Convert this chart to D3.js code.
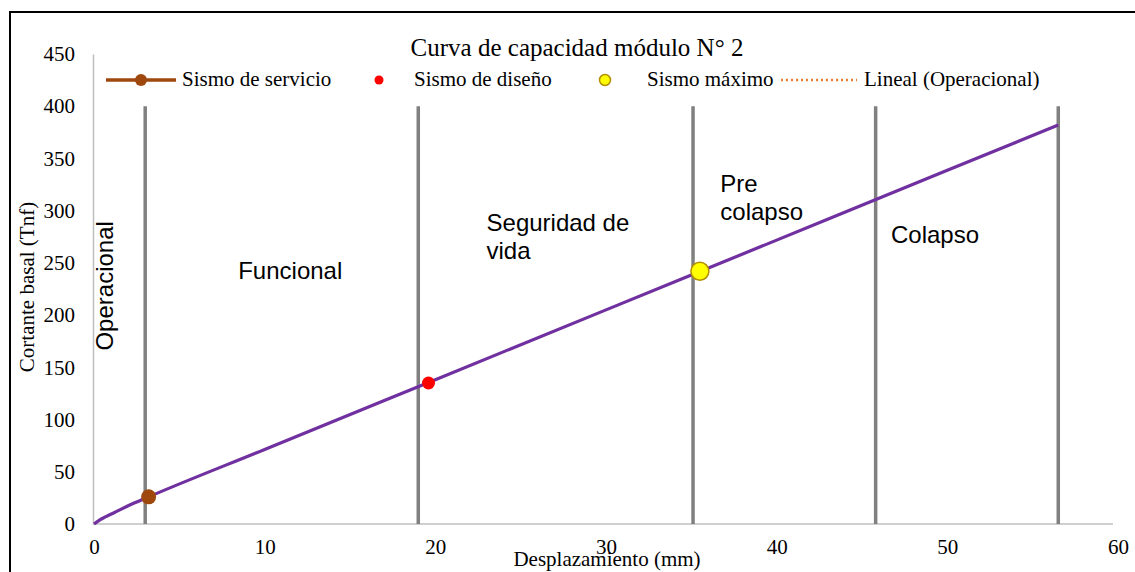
<!DOCTYPE html>
<html><head><meta charset="utf-8">
<script src="https://cdn.jsdelivr.net/npm/d3@7"></script>
<style>body{margin:0;background:#fff}svg{display:block}</style>
</head><body>
<svg id="c" width="1135" height="572"></svg>
<script>
const title = "Curva de capacidad módulo N° 2";
const xTitle = "Desplazamiento (mm)";
const yTitle = "Cortante basal (Tnf)";
const xTicks = [0, 10, 20, 30, 40, 50, 60];
const yTicks = [0, 50, 100, 150, 200, 250, 300, 350, 400, 450];
// capacity curve
const curveDisp = [0, 0.3, 0.7, 1.2, 2.0, 3.2, 10, 20, 30, 40, 50, 56.5];
const curveShear = [0, 3.5, 7, 11, 17.5, 26, 71.4, 138.2, 205, 271.8, 338.6, 382];
// performance points
const servicio = [{d: 3.2, v: 26}];
const diseno = [{d: 19.6, v: 135}];
const maximo = [{d: 35.5, v: 242}];
// zone limits (vertical lines)
const limits = [3.0, 19.0, 35.1, 45.8, 56.5];
const limitTop = 400;
// zone labels
const zoneNames = ["Operacional", "Funcional", "Seguridad de|vida", "Pre|colapso", "Colapso"];
const zoneAnchors = [{d: 0.65, v: 228}, {d: 8.45, v: 235}, {d: 23.0, v: 281}, {d: 36.7, v: 318}, {d: 46.7, v: 269}];
const legendNames = ["Sismo de servicio", "Sismo de diseño", "Sismo máximo", "Lineal (Operacional)"];

const svg = d3.select("#c");
const x = d3.scaleLinear().domain([0, 60]).range([94, 1118]);
const y = d3.scaleLinear().domain([0, 450]).range([524, 54]);

// outer border
svg.append("rect").attr("x", 10).attr("y", 12).attr("width", 1300).attr("height", 800)
  .attr("fill", "none").attr("stroke", "#000").attr("stroke-width", 2);

const serif = "'Liberation Serif','Times New Roman',serif";
const sans = "'Liberation Sans',Arial,sans-serif";

// axes
const xAxis = svg.append("g").attr("transform", `translate(0,${y(0)})`)
  .call(d3.axisBottom(x).tickValues(xTicks).tickSize(0).tickPadding(15));
xAxis.select(".domain").attr("stroke", "#bfbfbf").attr("stroke-width", 1.5).attr("d", `M${x(0)-1},0H1113`);
xAxis.selectAll("text").attr("font-family", serif).attr("font-size", 21).attr("fill", "#000");

const yAxis = svg.append("g").attr("transform", `translate(${x(0)-1},0)`)
  .call(d3.axisLeft(y).tickValues(yTicks).tickSize(0).tickPadding(18));
yAxis.select(".domain").attr("stroke", "#bfbfbf").attr("stroke-width", 1.5);
yAxis.selectAll("text").attr("font-family", serif).attr("font-size", 21).attr("fill", "#000");

// limit lines
svg.append("g").selectAll("line").data(limits).join("line")
  .attr("x1", d => x(d)).attr("x2", d => x(d))
  .attr("y1", y(limitTop)).attr("y2", y(0))
  .attr("stroke", "#808080").attr("stroke-width", 3.5);

// curve
const line = d3.line().x((d, i) => x(curveDisp[i])).y((d, i) => y(curveShear[i])).curve(d3.curveMonotoneX);
svg.append("path").datum(curveDisp).attr("d", line)
  .attr("fill", "none").attr("stroke", "#7030a0").attr("stroke-width", 3.2);

// points
svg.selectAll(".ps").data(servicio).join("circle").attr("cx", d => x(d.d)).attr("cy", d => y(d.v))
  .attr("r", 7.5).attr("fill", "#9e480e");
svg.selectAll(".pd").data(diseno).join("circle").attr("cx", d => x(d.d)).attr("cy", d => y(d.v))
  .attr("r", 6.5).attr("fill", "#ff0000");
svg.selectAll(".pm").data(maximo).join("circle").attr("cx", d => x(d.d)).attr("cy", d => y(d.v))
  .attr("r", 9).attr("fill", "#ffff00").attr("stroke", "#b38f00").attr("stroke-width", 1.5);

// zone labels
zoneNames.forEach((n, i) => {
  const a = zoneAnchors[i];
  if (i === 0) {
    svg.append("text").attr("transform", `translate(${x(a.d)+8},${y(a.v)}) rotate(-90)`)
      .attr("text-anchor", "middle").attr("font-family", sans).attr("font-size", 24).text(n);
  } else {
    const t = svg.append("text").attr("x", x(a.d)).attr("y", y(a.v))
      .attr("font-family", sans).attr("font-size", 24);
    n.split("|").forEach((s, k) => t.append("tspan").attr("x", x(a.d)).attr("dy", k ? 28 : 0).text(s));
  }
});

// title
svg.append("text").attr("x", 577).attr("y", 56).attr("text-anchor", "middle")
  .attr("font-family", serif).attr("font-size", 25).text(title);
// axis titles
svg.append("text").attr("x", 607).attr("y", 566).attr("text-anchor", "middle")
  .attr("font-family", serif).attr("font-size", 21).text(xTitle);
svg.append("text").attr("transform", "translate(34,287) rotate(-90)").attr("text-anchor", "middle")
  .attr("font-family", serif).attr("font-size", 21).text(yTitle);

// legend
const ly = 80;
const lg = svg.append("g").attr("font-family", serif).attr("font-size", 21);
lg.append("line").attr("x1", 106).attr("x2", 176).attr("y1", ly).attr("y2", ly).attr("stroke", "#9e480e").attr("stroke-width", 3.5);
lg.append("circle").attr("cx", 141).attr("cy", ly).attr("r", 6).attr("fill", "#9e480e");
lg.append("text").attr("x", 182).attr("y", ly + 6).text(legendNames[0]);
lg.append("circle").attr("cx", 379).attr("cy", ly).attr("r", 4.5).attr("fill", "#ff0000");
lg.append("text").attr("x", 414).attr("y", ly + 6).text(legendNames[1]);
lg.append("circle").attr("cx", 605).attr("cy", ly).attr("r", 5.5).attr("fill", "#ffff00").attr("stroke", "#b38f00").attr("stroke-width", 1.5);
lg.append("text").attr("x", 647).attr("y", ly + 6).text(legendNames[2]);
lg.append("line").attr("x1", 781).attr("x2", 857).attr("y1", ly).attr("y2", ly).attr("stroke", "#ed7d31").attr("stroke-width", 2.5).attr("stroke-dasharray", "2,3");
lg.append("text").attr("x", 864).attr("y", ly + 6).text(legendNames[3]);
</script>
</body></html>
